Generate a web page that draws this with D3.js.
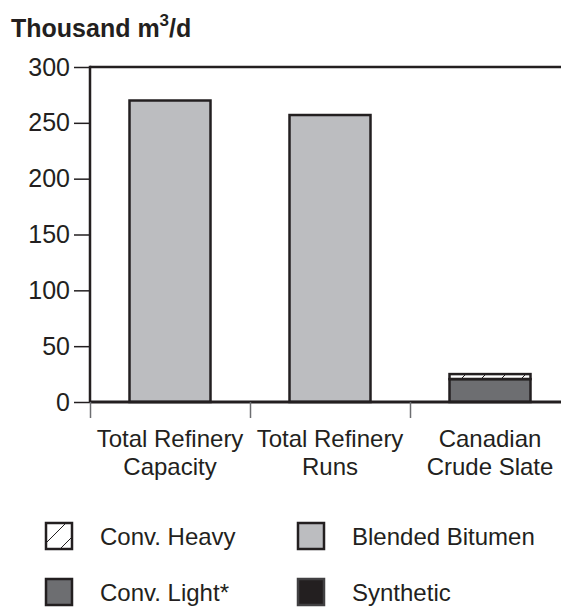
<!DOCTYPE html>
<html>
<head>
<meta charset="utf-8">
<script src="https://cdn.jsdelivr.net/npm/d3@7"></script>
<style>
  body { margin: 0; background: #fff; }
  text { font-family: "Liberation Sans", Arial, sans-serif; fill: #231f20; }
</style>
</head>
<body>
<div id="chart"></div>
<script>
// categories and stacked series (thousand m3/d)
var categories = [["Total Refinery", "Capacity"], ["Total Refinery", "Runs"], ["Canadian", "Crude Slate"]];
var seriesNames = ["Conv. Light*", "Conv. Heavy", "Blended Bitumen", "Synthetic"];
var convLight = [0, 0, 20.5];
var convHeavy = [0, 0, 4.5];
var blendedBitumen = [270, 257, 0];
var synthetic = [0, 0, 0];
var yTicks = [0, 50, 100, 150, 200, 250, 300];

var width = 561, height = 609;
var margin = { top: 67, left: 90, bottom: 207 };

var svg = d3.select("#chart").append("svg")
  .attr("width", width)
  .attr("height", height);

// hatch for conv. heavy
var defs = svg.append("defs");
defs.append("pattern")
  .attr("id", "hatch")
  .attr("patternUnits", "userSpaceOnUse")
  .attr("width", 20)
  .attr("height", 20)
  .append("path")
  .attr("d", "M0,20 L20,0")
  .attr("stroke", "#231f20")
  .attr("stroke-width", 1);

var x = d3.scaleBand()
  .domain(d3.range(categories.length))
  .range([margin.left, margin.left + 160 * categories.length])
  .paddingInner(0)
  .paddingOuter(0);

var y = d3.scaleLinear()
  .domain([0, 300])
  .range([height - margin.bottom, margin.top]);

var fills = {
  "Conv. Light*": "#6d6e71",
  "Conv. Heavy": "url(#hatch)",
  "Blended Bitumen": "#bcbdc0",
  "Synthetic": "#231f20"
};

var rows = categories.map(function (c, i) {
  return {
    i: i,
    "Conv. Light*": convLight[i],
    "Conv. Heavy": convHeavy[i],
    "Blended Bitumen": blendedBitumen[i],
    "Synthetic": synthetic[i]
  };
});

var stack = d3.stack().keys(seriesNames)(rows);
var barW = 81;

// bars
var layer = svg.append("g")
  .selectAll("g")
  .data(stack)
  .join("g")
  .attr("fill", function (d) { return fills[d.key]; });

layer.selectAll("rect")
  .data(function (d) { return d.filter(function (p) { return p[1] - p[0] > 0; }); })
  .join("rect")
  .attr("x", function (d) { return x(d.data.i) + (x.bandwidth() - barW) / 2; })
  .attr("y", function (d) { return y(d[1]); })
  .attr("width", barW)
  .attr("height", function (d) { return y(d[0]) - y(d[1]); })
  .attr("stroke", "#231f20")
  .attr("stroke-width", 2.5);

// frame lines
svg.append("line")
  .attr("x1", margin.left).attr("x2", width)
  .attr("y1", y(300)).attr("y2", y(300))
  .attr("stroke", "#231f20").attr("stroke-width", 2.5);
svg.append("line")
  .attr("x1", margin.left).attr("x2", width)
  .attr("y1", y(0)).attr("y2", y(0))
  .attr("stroke", "#231f20").attr("stroke-width", 3);
svg.append("line")
  .attr("x1", margin.left).attr("x2", margin.left)
  .attr("y1", y(300) - 1.2).attr("y2", y(0))
  .attr("stroke", "#231f20").attr("stroke-width", 2.5);

// y axis
var yAxis = svg.append("g")
  .attr("transform", "translate(" + margin.left + ",0)")
  .call(d3.axisLeft(y).tickValues(yTicks).tickSize(16).tickPadding(4));
yAxis.select(".domain").remove();
yAxis.selectAll(".tick line").attr("stroke", "#231f20").attr("stroke-width", 1.5);
yAxis.selectAll(".tick text")
  .attr("font-size", 25)
  .attr("font-family", "Liberation Sans, Arial, sans-serif")
  .attr("fill", "#231f20");

// x category boundary ticks
svg.append("g")
  .selectAll("line")
  .data(d3.range(categories.length))
  .join("line")
  .attr("x1", function (d) { return x(d) + 0.5; })
  .attr("x2", function (d) { return x(d) + 0.5; })
  .attr("y1", y(0))
  .attr("y2", y(0) + 16)
  .attr("stroke", "#6d6e71")
  .attr("stroke-width", 1.5);

// category labels
var lab = svg.append("g")
  .selectAll("text")
  .data(categories)
  .join("text")
  .attr("text-anchor", "middle")
  .attr("font-size", 24)
  .attr("transform", function (d, i) { return "translate(" + (x(i) + x.bandwidth() / 2) + "," + (y(0) + 45) + ")"; });
lab.selectAll("tspan")
  .data(function (d) { return d; })
  .join("tspan")
  .attr("x", 0)
  .attr("dy", function (d, j) { return j === 0 ? 0 : 28; })
  .text(function (d) { return d; });

// title
var title = svg.append("text")
  .attr("x", 11)
  .attr("y", 37)
  .attr("font-size", 25)
  .attr("font-weight", "bold");
title.append("tspan").text("Thousand m");
title.append("tspan").attr("font-size", 17).attr("dy", -11).text("3");
title.append("tspan").attr("dy", 11).text("/d");

// legend
var legendItems = [
  { name: "Conv. Heavy", col: 0, row: 0 },
  { name: "Blended Bitumen", col: 1, row: 0 },
  { name: "Conv. Light*", col: 0, row: 1 },
  { name: "Synthetic", col: 1, row: 1 }
];
var legend = svg.append("g")
  .selectAll("g")
  .data(legendItems)
  .join("g")
  .attr("transform", function (d) { return "translate(" + (46 + d.col * 252) + "," + (523 + d.row * 56) + ")"; });
legend.append("rect")
  .attr("width", 26)
  .attr("height", 26)
  .attr("fill", function (d) { return fills[d.name]; })
  .attr("stroke", function (d) { return d.name === "Synthetic" ? "#414042" : "#231f20"; })
  .attr("stroke-width", 2.5);
legend.append("text")
  .attr("x", 54)
  .attr("y", 22)
  .attr("font-size", 24)
  .text(function (d) { return d.name; });
</script>
</body>
</html>
